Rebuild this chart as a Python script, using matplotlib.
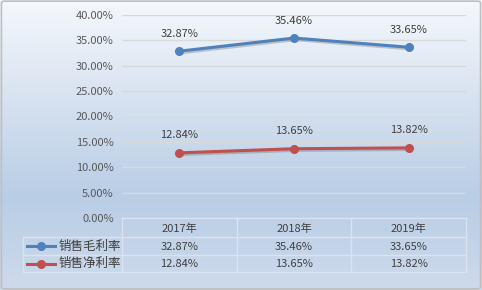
import numpy as np
import matplotlib.pyplot as plt
import matplotlib.patheffects as pe
from matplotlib.colors import LinearSegmentedColormap
from matplotlib.patches import FancyBboxPatch
from matplotlib.lines import Line2D

plt.rcParams['font.family'] = ['Noto Sans CJK SC', 'DejaVu Sans']

years = ['2017年', '2018年', '2019年']
gross = [32.87, 35.46, 33.65]
net = [12.84, 13.65, 13.82]
names = ['销售毛利率', '销售净利率']
colors = ['#4f81bd', '#c0504d']
yticks = [0, 5, 10, 15, 20, 25, 30, 35, 40]

W, H = 482, 290
fig = plt.figure(figsize=(W / 100, H / 100), dpi=100)

# gradient background
bg = fig.add_axes([0, 0, 1, 1], zorder=-5)
cmap = LinearSegmentedColormap.from_list('bg', [(0, '#f5f8fc'), (0.68, '#b9cde5'), (1, '#cddaeb')])
grad = np.linspace(0, 1, 256).reshape(-1, 1)
bg.imshow(grad, aspect='auto', cmap=cmap, extent=[0, 1, 0, 1], origin='upper')
bg.add_patch(FancyBboxPatch((0.003, 0.004), 0.994, 0.992, boxstyle='round,pad=0,rounding_size=0.006',
                            fill=False, ec='#bfbfbf', lw=1.2, transform=bg.transAxes))
bg.set_xlim(0, 1)
bg.set_ylim(0, 1)
bg.axis('off')

x0, x1 = 122 / W, 466 / W
ytop, ybot = 15 / H, 218 / H
ax = fig.add_axes([x0, 1 - ybot, x1 - x0, ybot - ytop])
ax.patch.set_alpha(0)
ax.set_xlim(-0.5, 2.5)
ax.set_ylim(0, 40)
ax.set_yticks(yticks)
ax.set_yticklabels(['%.2f%%' % v for v in yticks], fontsize=8, color='#595959')
ax.set_xticks([])
ax.tick_params(axis='y', length=0, pad=6)
for s in ax.spines.values():
    s.set_visible(False)
ax.grid(axis='y', color='#d9d9d9', lw=1)
ax.set_axisbelow(True)

shadow = [pe.SimpleLineShadow(offset=(1, -1.2), shadow_color='#404040', alpha=0.25), pe.Normal()]
xs = np.arange(len(years))
for vals, c in zip([gross, net], colors):
    ax.plot(xs, vals, color=c, lw=2.2, path_effects=shadow, clip_on=False)
    ax.plot(xs, vals, color=c, lw=0, marker='o', ms=5.5, clip_on=False)
    for x, v in zip(xs, vals):
        ax.annotate('%.2f%%' % v, (x, v), xytext=(0, 9), textcoords='offset points',
                    ha='center', va='bottom', fontsize=8, color='#404040')

# data table below
tab = fig.add_axes([0, 0, 1, 1], zorder=3)
tab.set_xlim(0, W)
tab.set_ylim(H, 0)
tab.axis('off')
lc = '#dce3ee'
rows = [218, 237, 255, 272]
cols = [122 + i * (466 - 122) / 3 for i in range(4)]
tab.plot([cols[0], cols[-1]], [rows[0], rows[0]], color=lc, lw=1)
for r in rows[1:]:
    tab.plot([23, cols[-1]], [r, r], color=lc, lw=1)
tab.plot([23, 23], [rows[1], rows[3]], color=lc, lw=1)
for c in cols:
    tab.plot([c, c], [rows[0], rows[3]], color=lc, lw=1)
for i, yr in enumerate(years):
    tab.text((cols[i] + cols[i + 1]) / 2, (rows[0] + rows[1]) / 2 + 1, yr, ha='center', va='center',
             fontsize=8, color='#404040')
for j, (vals, c, nm) in enumerate(zip([gross, net], colors, names)):
    yc = (rows[j + 1] + rows[j + 2]) / 2
    tab.add_line(Line2D([27, 41, 55], [yc, yc, yc], color=c, lw=2.2,
                        marker='o', markevery=[1], ms=5.5))
    tab.text(59, yc, nm, ha='left', va='center', fontsize=9, color='#404040')
    for i, v in enumerate(vals):
        tab.text((cols[i] + cols[i + 1]) / 2, yc + 0.5, '%.2f%%' % v, ha='center', va='center',
                 fontsize=8, color='#404040')

fig.savefig('out.png', dpi=100)
